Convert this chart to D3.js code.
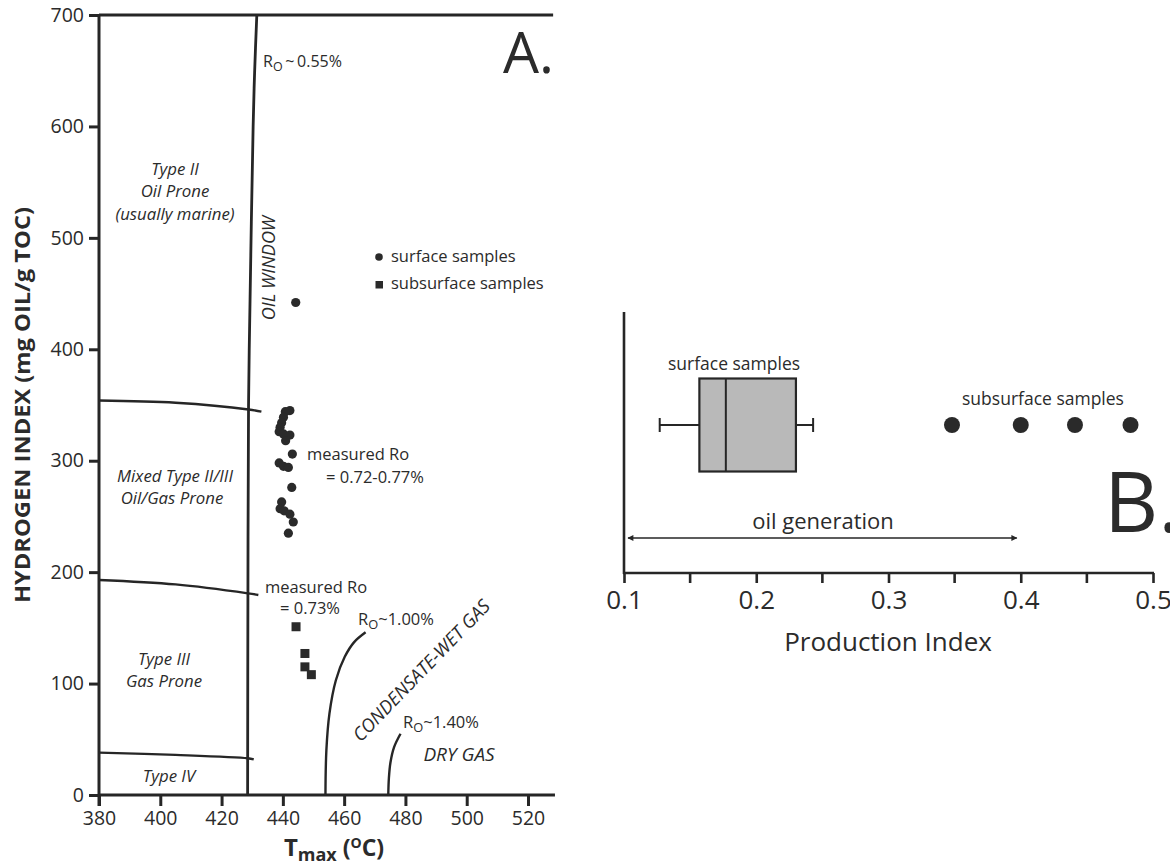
<!DOCTYPE html>
<html><head><meta charset="utf-8">
<script src="https://cdn.jsdelivr.net/npm/d3@7"></script>
<style>
body{margin:0;background:#fff;}
svg text{font-family:"Open Sans","Noto Sans",sans-serif;fill:#2b2b2b;}
</style></head><body>
<svg id="c" width="1170" height="868"></svg>
<script>
// ---------- Panel A data ----------
const tmaxTicks=[380,400,420,440,460,480,500,520];
const hiTicks=[0,100,200,300,400,500,600,700];
const surfaceTmax=[444.2,442.3,440.8,440.2,439.6,439.1,438.8,440.2,442.3,440.9,443.1,438.8,440.2,441.8,442.9,439.6,439.1,440.4,442.3,443.4,441.8];
const surfaceHI=[442,345,344,339,334,330,326,324,323,318,306,298,295,294,276,263,257,255,252,245,235];
const subsurfaceTmax=[444.3,447.2,447.2,449.3];
const subsurfaceHI=[151,127,115,108];
const oilWindowLine=[[431.5,700],[430.8,650],[430.3,600],[429.3,445],[428.8,350],[428.6,180],[428.5,0]];
const typeBoundaryII=[[380,354],[405,352],[428.8,346],[433,344]];
const typeBoundaryIII=[[380,193],[405,189],[428.6,181],[432,179.5]];
const typeBoundaryIV=[[380,38],[405,36],[428.5,33],[430.5,32]];
const ro100Curve=[[453.9,0],[454.2,40],[455.2,73],[457.3,103],[460.2,124],[463.2,137],[467,146]];
const ro140Curve=[[474.4,0],[474.6,15],[475.1,29],[476.3,43],[478.4,55]];
// ---------- Panel B data ----------
const piTicks=[0.1,0.2,0.3,0.4,0.5];
const piMinorTicks=[0.15,0.25,0.35,0.45];
const surfaceBox={low:0.127,q1:0.157,median:0.177,q3:0.230,high:0.243};
const subsurfacePI=[0.348,0.400,0.441,0.483];
const oilGenerationRange=[0.103,0.397];

const svg=d3.select("#c");
const ink="#262626";

// ===== Panel A =====
const x=d3.scaleLinear().domain([380,520]).range([99,528]);
const y=d3.scaleLinear().domain([0,700]).range([795,15]);
const gA=svg.append("g");

const xAx=gA.append("g").attr("transform",`translate(0,${y(0)})`)
  .call(d3.axisBottom(x).tickValues(tmaxTicks).tickSize(11).tickPadding(5));
xAx.select(".domain").remove();
xAx.selectAll(".tick line").attr("stroke",ink).attr("stroke-width",3);
xAx.selectAll(".tick text").attr("font-size",19.5).attr("fill","#333").attr("font-family","Open Sans");
gA.append("line").attr("x1",x(380)-1).attr("x2",x(528.8)).attr("y1",y(0)).attr("y2",y(0)).attr("stroke",ink).attr("stroke-width",3);

const yAx=gA.append("g").attr("transform",`translate(${x(380)},0)`)
  .call(d3.axisLeft(y).tickValues(hiTicks).tickSize(10).tickPadding(5));
yAx.select(".domain").remove();
yAx.selectAll(".tick line").attr("stroke",ink).attr("stroke-width",3);
yAx.selectAll(".tick text").attr("font-size",19.5).attr("fill","#333").attr("font-family","Open Sans");
gA.append("line").attr("x1",x(380)).attr("x2",x(380)).attr("y1",y(700)-1).attr("y2",y(0)+11).attr("stroke",ink).attr("stroke-width",3);
gA.append("line").attr("x1",x(380)).attr("x2",x(528.2)).attr("y1",y(700)).attr("y2",y(700)).attr("stroke",ink).attr("stroke-width",3);

const line=d3.line().x(d=>x(d[0])).y(d=>y(d[1])).curve(d3.curveCatmullRom);
gA.append("path").attr("d",line(oilWindowLine)).attr("fill","none").attr("stroke",ink).attr("stroke-width",2.8);
[typeBoundaryII,typeBoundaryIII,typeBoundaryIV,ro100Curve,ro140Curve].forEach(p=>
  gA.append("path").attr("d",line(p)).attr("fill","none").attr("stroke",ink).attr("stroke-width",2.4));

gA.selectAll("circle.s").data(surfaceTmax.map((t,i)=>[t,surfaceHI[i]])).join("circle")
  .attr("cx",d=>x(d[0])).attr("cy",d=>y(d[1])).attr("r",4.6).attr("fill","#2a2a2a");
gA.selectAll("rect.ss").data(subsurfaceTmax.map((t,i)=>[t,subsurfaceHI[i]])).join("rect")
  .attr("x",d=>x(d[0])-4.5).attr("y",d=>y(d[1])-4.5).attr("width",9).attr("height",9).attr("fill","#2a2a2a");

// legend
gA.append("circle").attr("cx",379).attr("cy",257).attr("r",3.8).attr("fill","#2a2a2a");
gA.append("text").attr("x",391).attr("y",262).attr("font-size",16.5).text("surface samples");
gA.append("rect").attr("x",375.5).attr("y",281).attr("width",7.5).attr("height",7.5).attr("fill","#2a2a2a");
gA.append("text").attr("x",391).attr("y",289).attr("font-size",16.5).text("subsurface samples");

function roLabel(g,xx,yy,rest,fs){
  const t=g.append("text").attr("x",xx).attr("y",yy).attr("font-size",fs);
  t.append("tspan").text("R");
  t.append("tspan").attr("font-size",fs*0.78).attr("dy",4).text("O");
  t.append("tspan").attr("dy",-4).text(rest);
  return t;
}
roLabel(gA,263,67,"\u2009~\u20090.55%",16);
roLabel(gA,358,625,"~1.00%",16.5);
roLabel(gA,403,728,"~1.40%",16.5);

gA.append("text").attr("x",503).attr("y",73).attr("font-size",57).attr("fill","#2b2b2b").text("A.");

function itext(xx,yy,s,anchor){return gA.append("text").attr("x",xx).attr("y",yy).attr("font-size",16.8).attr("font-style","italic").attr("text-anchor",anchor||"middle").text(s);}
itext(175,175,"Type II"); itext(175,197,"Oil Prone"); itext(175,220,"(usually marine)");
itext(175,482,"Mixed Type II/III"); itext(172,504,"Oil/Gas Prone");
itext(164,665,"Type III"); itext(164,687,"Gas Prone");
itext(169,782,"Type IV");
gA.append("text").attr("x",459).attr("y",761).attr("font-size",19).attr("font-style","italic").attr("text-anchor","middle").text("DRY GAS");
gA.append("text").attr("transform","translate(275,268) rotate(-90)").attr("font-size",18).attr("font-style","italic").attr("text-anchor","middle").text("OIL WINDOW");
gA.append("text").attr("transform","translate(426,675) rotate(-46)").attr("font-size",18.5).attr("font-style","italic").attr("text-anchor","middle").text("CONDENSATE-WET GAS");

gA.append("text").attr("x",307).attr("y",460).attr("font-size",16.5).text("measured Ro");
gA.append("text").attr("x",326).attr("y",483).attr("font-size",16.5).text("= 0.72-0.77%");
gA.append("text").attr("x",265).attr("y",593).attr("font-size",16.5).text("measured Ro");
gA.append("text").attr("x",280).attr("y",614).attr("font-size",16.5).text("= 0.73%");

gA.append("text").attr("transform","translate(30,405) rotate(-90)").attr("text-anchor","middle")
  .attr("font-size",21).attr("font-weight","bold").attr("fill","#333")
  .attr("textLength",396).attr("lengthAdjust","spacingAndGlyphs").text("HYDROGEN INDEX (mg OIL/g TOC)");
const xt=gA.append("text").attr("x",334).attr("y",856).attr("text-anchor","middle").attr("font-weight","bold").attr("fill","#333");
xt.append("tspan").attr("font-size",24).text("T");
xt.append("tspan").attr("font-size",18).attr("dy",5).text("max");
xt.append("tspan").attr("font-size",23).attr("dy",-5).text(" (");
xt.append("tspan").attr("font-size",14).attr("dy",-8).text("O");
xt.append("tspan").attr("font-size",23).attr("dy",8).text("C)");

// ===== Panel B =====
const xb=d3.scaleLinear().domain([0.1,0.5]).range([624,1153]);
const baseY=573, topY=312, rowY=425;
const gB=svg.append("g");
gB.append("line").attr("x1",xb(0.1)).attr("x2",xb(0.1)).attr("y1",topY).attr("y2",baseY+1).attr("stroke",ink).attr("stroke-width",2.6);
const bAx=gB.append("g").attr("transform",`translate(0,${baseY})`)
  .call(d3.axisBottom(xb).tickValues(piTicks).tickSize(10).tickPadding(8).tickFormat(d3.format(".1f")));
bAx.select(".domain").remove();
bAx.selectAll(".tick line").attr("stroke",ink).attr("stroke-width",2.6);
bAx.selectAll(".tick text").attr("font-size",26).attr("fill","#333").attr("font-family","Open Sans");
gB.selectAll("line.minor").data(piMinorTicks).join("line").attr("class","minor")
  .attr("x1",d=>xb(d)).attr("x2",d=>xb(d)).attr("y1",baseY).attr("y2",baseY+10).attr("stroke",ink).attr("stroke-width",2.6);
gB.append("line").attr("x1",xb(0.1)-1).attr("x2",xb(0.5)+1).attr("y1",baseY).attr("y2",baseY).attr("stroke",ink).attr("stroke-width",2.6);
gB.append("text").attr("x",888).attr("y",651).attr("text-anchor","middle").attr("font-size",26).attr("fill","#333").text("Production Index");

const bb=surfaceBox, bh=93;
gB.append("line").attr("x1",xb(bb.low)).attr("x2",xb(bb.q1)).attr("y1",rowY).attr("y2",rowY).attr("stroke",ink).attr("stroke-width",2);
gB.append("line").attr("x1",xb(bb.q3)).attr("x2",xb(bb.high)).attr("y1",rowY).attr("y2",rowY).attr("stroke",ink).attr("stroke-width",2);
[bb.low,bb.high].forEach(v=>gB.append("line").attr("x1",xb(v)).attr("x2",xb(v)).attr("y1",rowY-7).attr("y2",rowY+7).attr("stroke",ink).attr("stroke-width",2));
gB.append("rect").attr("x",xb(bb.q1)).attr("y",rowY-bh/2).attr("width",xb(bb.q3)-xb(bb.q1)).attr("height",bh)
  .attr("fill","#b9b9b9").attr("stroke",ink).attr("stroke-width",2.2);
gB.append("line").attr("x1",xb(bb.median)).attr("x2",xb(bb.median)).attr("y1",rowY-bh/2).attr("y2",rowY+bh/2).attr("stroke",ink).attr("stroke-width",2);
gB.append("text").attr("x",734).attr("y",370).attr("text-anchor","middle").attr("font-size",17.5).text("surface samples");

gB.selectAll("circle.sub").data(subsurfacePI).join("circle").attr("class","sub")
  .attr("cx",d=>xb(d)).attr("cy",rowY).attr("r",8).attr("fill","#2a2a2a");
gB.append("text").attr("x",1043).attr("y",405).attr("text-anchor","middle").attr("font-size",17.5).text("subsurface samples");

const defs=svg.append("defs");
defs.append("marker").attr("id","ah").attr("viewBox","0 0 10 10").attr("refX",9).attr("refY",5)
  .attr("markerWidth",9).attr("markerHeight",6).attr("markerUnits","userSpaceOnUse").attr("orient","auto-start-reverse")
  .append("path").attr("d","M0,0L10,5L0,10z").attr("fill",ink);
gB.append("line").attr("x1",xb(oilGenerationRange[0])).attr("x2",xb(oilGenerationRange[1])).attr("y1",538).attr("y2",538)
  .attr("stroke",ink).attr("stroke-width",1.6).attr("marker-start","url(#ah)").attr("marker-end","url(#ah)");
gB.append("text").attr("x",823).attr("y",529).attr("text-anchor","middle").attr("font-size",22).text("oil generation");
gB.append("text").attr("x",1104).attr("y",532).attr("font-size",84).text("B.");
</script></body></html>
